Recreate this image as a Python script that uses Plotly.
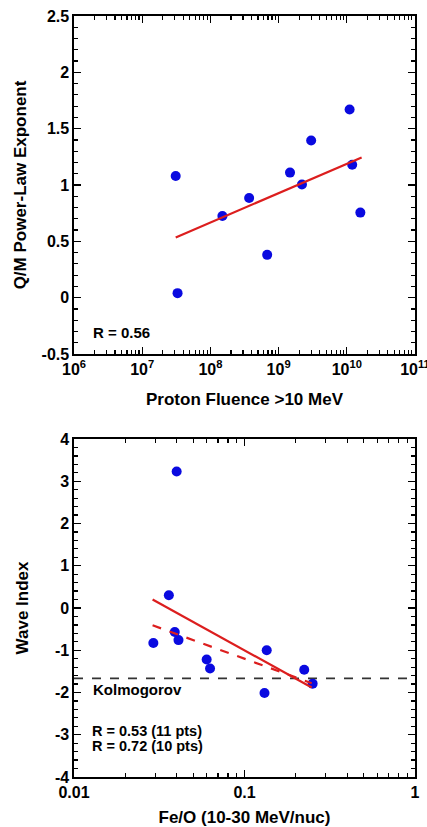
import plotly.graph_objects as go

# ---- Top panel data ----
fluence = [3.1e7, 1.1e10, 3.0e9, 1.47e9, 2.2e9, 1.2e10, 3.7e8, 1.5e8, 1.58e10, 6.8e8, 3.3e7]
qm_exponent = [1.08, 1.67, 1.395, 1.11, 1.005, 1.18, 0.885, 0.725, 0.755, 0.38, 0.04]
fit1_x = [3.1e7, 1.65e10]
fit1_y = [0.535, 1.245]

# ---- Bottom panel data ----
fe_o = [0.040, 0.036, 0.0292, 0.039, 0.041, 0.060, 0.0628, 0.135, 0.131, 0.224, 0.251]
wave_index = [3.23, 0.30, -0.83, -0.57, -0.76, -1.22, -1.43, -1.0, -2.01, -1.46, -1.79]
fit11_x = [0.0289, 0.248]
fit11_y = [0.20, -1.88]
fit10_x = [0.0289, 0.248]
fit10_y = [-0.41, -1.78]
kolmogorov = -5.0 / 3.0

top_xticks = [1e6, 1e7, 1e8, 1e9, 1e10, 1e11]
top_xticktext = ["10<sup>6</sup>", "10<sup>7</sup>", "10<sup>8</sup>", "10<sup>9</sup>",
                 "10<sup>10</sup>", "10<sup>11</sup>"]
top_yticks = [-0.5, 0, 0.5, 1, 1.5, 2, 2.5]
top_yticktext = ["-0.5", "0", "0.5", "1", "1.5", "2", "2.5"]
bot_xticks = [0.01, 0.1, 1]
bot_xticktext = ["0.01", "0.1", "1"]
bot_yticks = [-4, -3, -2, -1, 0, 1, 2, 3, 4]
bot_yticktext = ["-4", "-3", "-2", "-1", "0", "1", "2", "3", "4"]

FONT = "Liberation Sans, Arial, sans-serif"
BLUE = "#0a0ae0"
RED = "#dc1e1e"

top_minor = [k * 10 ** d for d in range(6, 11) for k in range(2, 10)]
bot_minor = [k * 10 ** d for d in range(-2, 0) for k in range(2, 10)]

fig = go.Figure()

fig.add_trace(go.Scatter(x=fluence, y=qm_exponent, mode="markers",
                         marker=dict(color=BLUE, size=10), xaxis="x", yaxis="y",
                         showlegend=False))
fig.add_trace(go.Scatter(x=fit1_x, y=fit1_y, mode="lines",
                         line=dict(color=RED, width=2.2), xaxis="x", yaxis="y",
                         showlegend=False))

fig.add_trace(go.Scatter(x=[0.01, 1], y=[kolmogorov, kolmogorov], mode="lines",
                         line=dict(color="#333333", width=1.6, dash="dash"),
                         xaxis="x2", yaxis="y2", showlegend=False))
fig.add_trace(go.Scatter(x=fe_o, y=wave_index, mode="markers",
                         marker=dict(color=BLUE, size=10), xaxis="x2", yaxis="y2",
                         showlegend=False))
fig.add_trace(go.Scatter(x=fit11_x, y=fit11_y, mode="lines",
                         line=dict(color=RED, width=2.2), xaxis="x2", yaxis="y2",
                         showlegend=False))
fig.add_trace(go.Scatter(x=fit10_x, y=fit10_y, mode="lines",
                         line=dict(color=RED, width=2.2, dash="dash"), xaxis="x2", yaxis="y2",
                         showlegend=False))

axis_common = dict(showline=True, linecolor="black", linewidth=1.6, mirror="ticks",
                   ticks="inside", ticklen=7, tickwidth=1.4, tickcolor="black",
                   showgrid=False, zeroline=False, automargin=False,
                   ticklabeloverflow="allow",
                   tickfont=dict(family=FONT, size=16, color="black", weight="bold"),
                   title_font=dict(family=FONT, size=17, color="black", weight="bold"))
minor_common = dict(ticks="inside", ticklen=4, tickwidth=1.2, tickcolor="black", showgrid=False)

ML, MR, MT, MB = 74, 12, 16, 50
ph = 827 - MT - MB
top_dom = [(827 - MB - 354) / ph, 1.0]
bot_dom = [0.0, (827 - MB - 439) / ph]

fig.update_layout(
    width=427, height=827,
    margin=dict(l=ML, r=MR, t=MT, b=MB, autoexpand=False),
    paper_bgcolor="white", plot_bgcolor="white",
    font=dict(family=FONT, color="black"),
    hovermode=False,
    xaxis=dict(axis_common, type="log", range=[6, 11], anchor="y",
               tickvals=top_xticks, ticktext=top_xticktext,
               minor=dict(minor_common, tickvals=top_minor),
               title=dict(text="Proton Fluence >10 MeV", standoff=16)),
    yaxis=dict(axis_common, domain=top_dom, range=[-0.5, 2.5], anchor="x",
               tickvals=top_yticks, ticktext=top_yticktext,
               minor=dict(minor_common, dtick=0.1, tick0=0),
               title=dict(text="Q/M Power-Law Exponent", standoff=10)),
    xaxis2=dict(axis_common, type="log", range=[-2, 0], anchor="y2",
                tickvals=bot_xticks, ticktext=bot_xticktext,
                minor=dict(minor_common, tickvals=bot_minor),
                title=dict(text="Fe/O (10-30 MeV/nuc)", standoff=13)),
    yaxis2=dict(axis_common, domain=bot_dom, range=[-4, 4], anchor="x2",
                tickvals=bot_yticks, ticktext=bot_yticktext,
                minor=dict(minor_common, dtick=0.2, tick0=0),
                title=dict(text="Wave Index", standoff=22)),
)

ann_font = dict(family=FONT, size=15, color="black", weight="bold")
small_font = dict(family=FONT, size=14.5, color="black", weight="bold")
fig.add_annotation(text="R = 0.56", xref="x domain", yref="y domain", x=0.05, y=0.065,
                   xanchor="left", yanchor="middle", showarrow=False, font=ann_font)
fig.add_annotation(text="Kolmogorov", xref="x2 domain", yref="y2", x=0.05, y=-1.93,
                   xanchor="left", yanchor="middle", showarrow=False, font=ann_font)
fig.add_annotation(text="R = 0.53 (11 pts)", xref="x2 domain",
                   yref="y2", x=0.05, y=-2.92, xanchor="left", yanchor="middle",
                   showarrow=False, font=small_font, borderpad=0)
fig.add_annotation(text="R = 0.72 (10 pts)", xref="x2 domain",
                   yref="y2", x=0.05, y=-3.27, xanchor="left", yanchor="middle",
                   showarrow=False, font=small_font, borderpad=0)

fig.write_html("out.html",
               config={"displayModeBar": False, "staticPlot": True},
               post_script="document.body.style.margin='0';document.body.style.overflow='hidden';")
